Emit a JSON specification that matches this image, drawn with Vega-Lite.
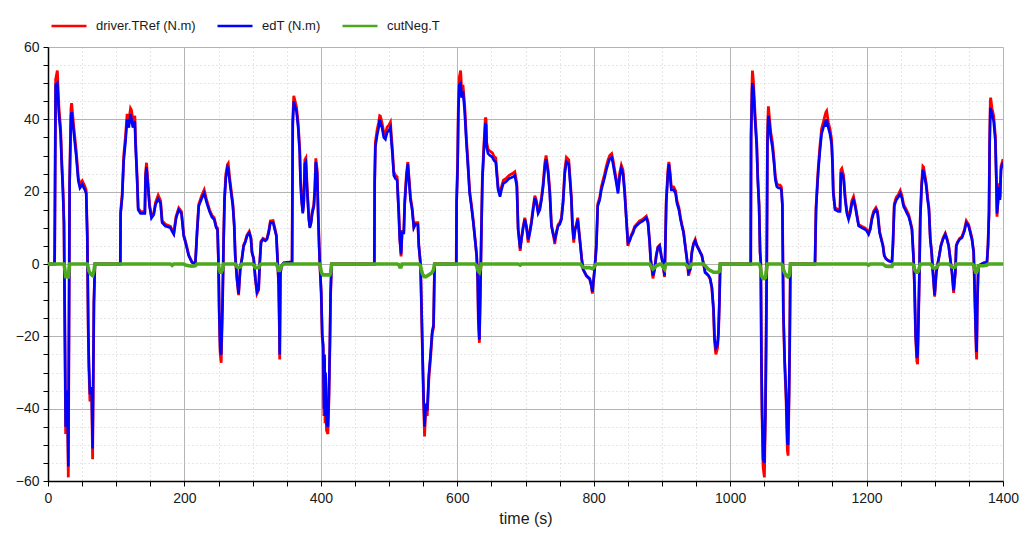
{
"$schema": "https://vega.github.io/schema/vega-lite/v6.json",
"width": 955, "height": 434,
"autosize": {"type": "none"},
"padding": {"left": 48, "top": 47, "right": 18, "bottom": 54},
"background": "white",
"config": {"view": {"stroke": null}, "font": "Liberation Sans"},
"data": {"values": [
{"t":0,"ref":0,"ed":0,"cut":0},{"t":9.5,"ref":0,"ed":0,"cut":0},{"t":9.8,"ref":2.8,"ed":2.7,"cut":0},{"t":11.2,"ref":51,"ed":49.5,"cut":0},{"t":13.7,"ref":53.5,"ed":50,"cut":0},{"t":16.1,"ref":43,"ed":41,"cut":0},{"t":18.5,"ref":37.5,"ed":36,"cut":0},{"t":20,"ref":29.5,"ed":28,"cut":0},{"t":22,"ref":20.5,"ed":19.5,"cut":0},{"t":23.4,"ref":11.5,"ed":11,"cut":0},{"t":24.4,"ref":-11.5,"ed":-11,"cut":-1},{"t":25.9,"ref":-47,"ed":-45,"cut":-3.5},{"t":28.3,"ref":-37,"ed":-35,"cut":-3.6},{"t":29.8,"ref":-59,"ed":-56,"cut":-3.6},{"t":31.7,"ref":23,"ed":22,"cut":0},{"t":33.7,"ref":43,"ed":41,"cut":0},{"t":34.6,"ref":44.5,"ed":42,"cut":0},{"t":38,"ref":37.5,"ed":36,"cut":0},{"t":41.5,"ref":31,"ed":29.5,"cut":0},{"t":44.4,"ref":24,"ed":23,"cut":0},{"t":46.8,"ref":22,"ed":21,"cut":0},{"t":50.2,"ref":23,"ed":22,"cut":0},{"t":54,"ref":21.5,"ed":20.5,"cut":0},{"t":56,"ref":20.3,"ed":19.5,"cut":0},{"t":57.6,"ref":8,"ed":7.7,"cut":0},{"t":59,"ref":-18.5,"ed":-17.7,"cut":-1},{"t":60,"ref":-29,"ed":-27.7,"cut":-2},{"t":61.5,"ref":-38,"ed":-36,"cut":-2.5},{"t":64,"ref":-36,"ed":-34,"cut":-3},{"t":65.4,"ref":-54,"ed":-51,"cut":-3.2},{"t":67.3,"ref":-11,"ed":-10.5,"cut":-2},{"t":68.8,"ref":0,"ed":0,"cut":0},
{"t":106,"ref":0,"ed":0,"cut":0},{"t":106.5,"ref":14.5,"ed":14,"cut":0},{"t":108.8,"ref":19.5,"ed":18.6,"cut":0},{"t":111,"ref":30,"ed":28.6,"cut":0},{"t":113.7,"ref":35.5,"ed":34,"cut":0},{"t":116,"ref":41.5,"ed":40,"cut":0},{"t":118.5,"ref":39.5,"ed":37.7,"cut":0},{"t":121,"ref":43,"ed":41.4,"cut":0},{"t":122.4,"ref":42.5,"ed":40,"cut":0},{"t":124.4,"ref":39.5,"ed":37.7,"cut":0},{"t":127.3,"ref":41,"ed":39.5,"cut":0},{"t":128.3,"ref":34.5,"ed":33,"cut":0},{"t":130.7,"ref":24,"ed":23,"cut":0},{"t":132.2,"ref":15.5,"ed":15,"cut":0},{"t":135.6,"ref":14.5,"ed":14,"cut":0},{"t":142,"ref":14.5,"ed":14,"cut":0},{"t":143,"ref":25,"ed":24,"cut":0},{"t":144.4,"ref":28,"ed":26.8,"cut":0},{"t":146.8,"ref":22,"ed":21,"cut":0},{"t":148.8,"ref":16.5,"ed":16,"cut":0},{"t":151.7,"ref":13.2,"ed":12.7,"cut":0},{"t":155,"ref":14,"ed":13.6,"cut":0},{"t":157.6,"ref":17,"ed":16.4,"cut":0},{"t":161.5,"ref":19,"ed":18,"cut":0},{"t":165,"ref":17.5,"ed":16.8,"cut":0},{"t":167.3,"ref":12,"ed":11.4,"cut":0},{"t":172,"ref":11,"ed":10.5,"cut":0},{"t":179.5,"ref":10.4,"ed":10,"cut":0},{"t":182,"ref":9.4,"ed":9,"cut":-0.4},{"t":184.4,"ref":8.6,"ed":8.2,"cut":0},{"t":187.8,"ref":13.2,"ed":12.7,"cut":0},{"t":191.7,"ref":15.5,"ed":15,"cut":0},{"t":195.6,"ref":14.5,"ed":14,"cut":0},{"t":199,"ref":8,"ed":7.7,"cut":0},{"t":201.5,"ref":6.3,"ed":6,"cut":-0.3},{"t":206.3,"ref":2.5,"ed":2.3,"cut":-0.5},{"t":211,"ref":0.5,"ed":0.5,"cut":-0.6},{"t":216,"ref":0,"ed":0,"cut":-0.5},{"t":218.5,"ref":9,"ed":8.6,"cut":0},{"t":221,"ref":16.5,"ed":16,"cut":0},{"t":225.5,"ref":19,"ed":18.2,"cut":0},{"t":229,"ref":20.5,"ed":19.5,"cut":0},{"t":232.8,"ref":17.5,"ed":16.8,"cut":0},{"t":236.8,"ref":15,"ed":14.5,"cut":0},{"t":240.2,"ref":13.5,"ed":13,"cut":0},{"t":243.6,"ref":12.8,"ed":12.3,"cut":0},{"t":246.6,"ref":10.4,"ed":10,"cut":0},{"t":248.5,"ref":9.9,"ed":9.5,"cut":0},{"t":250,"ref":0,"ed":0,"cut":0},{"t":251,"ref":-13.5,"ed":-13,"cut":-1.5},{"t":252.5,"ref":-25,"ed":-24,"cut":-2.3},{"t":253.9,"ref":-27.3,"ed":-25,"cut":-2.3},{"t":255.9,"ref":-11,"ed":-10.5,"cut":-1.5},{"t":257.4,"ref":6.3,"ed":6,"cut":0},{"t":258.8,"ref":18.5,"ed":17.7,"cut":0},{"t":260.8,"ref":25,"ed":24,"cut":0},{"t":263.2,"ref":27.5,"ed":26.8,"cut":0},{"t":264.2,"ref":27.8,"ed":26.5,"cut":0},{"t":266.2,"ref":24,"ed":23,"cut":0},{"t":268.6,"ref":20.3,"ed":19.5,"cut":0},{"t":271,"ref":16.6,"ed":16,"cut":0},{"t":273,"ref":11,"ed":10.5,"cut":0},{"t":274.5,"ref":2.4,"ed":2.3,"cut":0},{"t":277,"ref":-4.2,"ed":-4,"cut":-0.8},{"t":279.4,"ref":-8.6,"ed":-8.2,"cut":-1},{"t":281.9,"ref":-1,"ed":-1,"cut":-0.8},{"t":284.3,"ref":1.5,"ed":1.4,"cut":0},{"t":286.8,"ref":5.2,"ed":5,"cut":0},{"t":289.2,"ref":6.3,"ed":6,"cut":0},{"t":291.7,"ref":8,"ed":7.7,"cut":0},{"t":295,"ref":9,"ed":8.6,"cut":0},{"t":297.5,"ref":7.3,"ed":7,"cut":0},{"t":299,"ref":3.3,"ed":3.2,"cut":0},{"t":301.5,"ref":1.5,"ed":1.4,"cut":-0.3},{"t":304,"ref":-4.2,"ed":-4,"cut":-1},{"t":306.4,"ref":-8.2,"ed":-7.7,"cut":-1},{"t":308.8,"ref":-7.2,"ed":-6.8,"cut":-1},{"t":310.3,"ref":0,"ed":0,"cut":-0.5},{"t":312.3,"ref":6.3,"ed":6,"cut":0},{"t":315.2,"ref":7.1,"ed":6.8,"cut":0},{"t":318.6,"ref":6.7,"ed":6.4,"cut":0},{"t":321,"ref":7.1,"ed":6.8,"cut":0},{"t":323.5,"ref":9,"ed":8.6,"cut":0},{"t":326,"ref":11.9,"ed":11.4,"cut":0},{"t":329.9,"ref":12,"ed":11.5,"cut":0},{"t":331.9,"ref":10.4,"ed":10,"cut":0},{"t":334.8,"ref":8,"ed":7.7,"cut":0},{"t":336.8,"ref":0,"ed":0,"cut":-1},{"t":338.2,"ref":-6.3,"ed":-6,"cut":-1.8},{"t":339.2,"ref":-17.5,"ed":-16.8,"cut":-1.8},{"t":339.7,"ref":-26.4,"ed":-25,"cut":-1.8},{"t":340.7,"ref":-2.8,"ed":-2.7,"cut":-1.2},{"t":342.2,"ref":-0.5,"ed":-0.5,"cut":-0.5},{"t":345.6,"ref":0.3,"ed":0.3,"cut":0},{"t":357.8,"ref":0.6,"ed":0.6,"cut":0},{"t":358.8,"ref":40,"ed":38.6,"cut":0},{"t":360.3,"ref":46.5,"ed":45,"cut":0},{"t":361.3,"ref":45.7,"ed":44,"cut":0},{"t":364.2,"ref":43.5,"ed":42.3,"cut":0},{"t":366.7,"ref":39,"ed":37.7,"cut":0},{"t":369.1,"ref":31.5,"ed":30.5,"cut":0},{"t":370.1,"ref":24,"ed":23,"cut":0},{"t":371.6,"ref":18.4,"ed":17.7,"cut":0},{"t":373.5,"ref":14.5,"ed":14,"cut":0},{"t":375,"ref":17.5,"ed":16.8,"cut":0},{"t":376.5,"ref":28.8,"ed":27.7,"cut":0},{"t":378,"ref":29.3,"ed":28.2,"cut":0},{"t":379.9,"ref":21.3,"ed":20.5,"cut":0},{"t":382.4,"ref":12.8,"ed":12.3,"cut":0},{"t":383.8,"ref":10.4,"ed":10,"cut":0},{"t":385.8,"ref":11.9,"ed":11.4,"cut":0},{"t":387.3,"ref":14.5,"ed":14,"cut":0},{"t":389.7,"ref":16.4,"ed":15.8,"cut":0},{"t":391.2,"ref":21.3,"ed":20.5,"cut":0},{"t":392.6,"ref":29.2,"ed":28.2,"cut":0},{"t":394.6,"ref":26,"ed":25,"cut":0},{"t":396,"ref":14.5,"ed":14,"cut":0},{"t":397.5,"ref":5.2,"ed":5,"cut":0},{"t":398.5,"ref":0,"ed":0,"cut":0},{"t":400.5,"ref":-8,"ed":-7.7,"cut":-2},{"t":402,"ref":-20.3,"ed":-19.5,"cut":-2.8},{"t":403.4,"ref":-23.2,"ed":-22.3,"cut":-3},{"t":404.5,"ref":-42,"ed":-40,"cut":-3},{"t":405.4,"ref":-26,"ed":-25,"cut":-3},{"t":406.2,"ref":-44,"ed":-42,"cut":-3},{"t":406.9,"ref":-31.5,"ed":-30,"cut":-3},{"t":408.3,"ref":-46,"ed":-44,"cut":-3},{"t":410.3,"ref":-47,"ed":-45,"cut":-3},{"t":411.8,"ref":-37.7,"ed":-36,"cut":-3},{"t":413.2,"ref":-23.3,"ed":-22.3,"cut":-3},{"t":414.2,"ref":-9,"ed":-8.6,"cut":-2.5},{"t":415.7,"ref":0,"ed":0,"cut":0},
{"t":478.4,"ref":0,"ed":0,"cut":0},{"t":478.9,"ref":23.2,"ed":22.3,"cut":0},{"t":479.9,"ref":33.6,"ed":32.3,"cut":0},{"t":482.4,"ref":37,"ed":35.5,"cut":0},{"t":484.8,"ref":39.2,"ed":37.7,"cut":0},{"t":486.3,"ref":41,"ed":40,"cut":0},{"t":487.3,"ref":40.9,"ed":39,"cut":0},{"t":489.7,"ref":39,"ed":37.7,"cut":0},{"t":492.2,"ref":36.4,"ed":35,"cut":0},{"t":494.6,"ref":35.8,"ed":34.5,"cut":0},{"t":497.1,"ref":37.8,"ed":36.4,"cut":0},{"t":499.5,"ref":38.3,"ed":36.8,"cut":0},{"t":502,"ref":39.2,"ed":37.7,"cut":0},{"t":503.4,"ref":35.4,"ed":34,"cut":0},{"t":504.9,"ref":31.7,"ed":30.5,"cut":0},{"t":506.9,"ref":25.5,"ed":24.5,"cut":0},{"t":509.3,"ref":24.5,"ed":23.6,"cut":0},{"t":511.8,"ref":24.1,"ed":23.2,"cut":0},{"t":514.2,"ref":14.6,"ed":14,"cut":-0.2},{"t":515.7,"ref":7.1,"ed":6.8,"cut":-0.8},{"t":517.6,"ref":2.1,"ed":2.7,"cut":-0.8},{"t":519.1,"ref":9,"ed":8.6,"cut":0},{"t":521.6,"ref":9,"ed":8.6,"cut":0},{"t":523,"ref":17.5,"ed":16.8,"cut":0},{"t":525.5,"ref":25,"ed":24,"cut":0},{"t":527.5,"ref":28.2,"ed":27.7,"cut":0},{"t":529.9,"ref":22.3,"ed":21.4,"cut":0},{"t":531.4,"ref":18.4,"ed":17.7,"cut":0},{"t":533.8,"ref":15.6,"ed":15,"cut":0},{"t":536.3,"ref":10.4,"ed":10,"cut":0},{"t":538.7,"ref":11.4,"ed":11,"cut":0},{"t":542.2,"ref":11.4,"ed":11,"cut":0},{"t":543.6,"ref":5.2,"ed":5,"cut":0},{"t":546.1,"ref":0,"ed":0,"cut":-0.5},{"t":547.5,"ref":-11.9,"ed":-11.4,"cut":-1.8},{"t":549,"ref":-25,"ed":-24,"cut":-2.7},{"t":550.5,"ref":-37.5,"ed":-36,"cut":-3.2},{"t":552,"ref":-47.7,"ed":-45,"cut":-3.5},{"t":553.9,"ref":-40,"ed":-38.6,"cut":-3.5},{"t":555.9,"ref":-42,"ed":-40.5,"cut":-3.3},{"t":558.3,"ref":-31.8,"ed":-30.5,"cut":-3},{"t":560.8,"ref":-26,"ed":-25,"cut":-2.7},{"t":563.2,"ref":-19.4,"ed":-18.6,"cut":-2.3},{"t":565.2,"ref":-17.5,"ed":-16.8,"cut":-1.5},{"t":566.7,"ref":0,"ed":0,"cut":0},
{"t":598.5,"ref":0,"ed":0,"cut":0},{"t":599,"ref":17.5,"ed":16.8,"cut":0},{"t":600.5,"ref":28,"ed":26.8,"cut":0},{"t":601.5,"ref":43,"ed":41.4,"cut":0},{"t":602.9,"ref":51.5,"ed":49.5,"cut":0},{"t":604.9,"ref":53.5,"ed":50,"cut":0},{"t":606.4,"ref":48,"ed":46,"cut":0},{"t":608.3,"ref":49.5,"ed":47.7,"cut":0},{"t":610.8,"ref":44,"ed":42.3,"cut":0},{"t":613.2,"ref":35.4,"ed":34,"cut":0},{"t":615.7,"ref":27.9,"ed":26.8,"cut":0},{"t":618.1,"ref":20.3,"ed":19.5,"cut":0},{"t":620.6,"ref":16.6,"ed":16,"cut":0},{"t":623.5,"ref":11.9,"ed":11.4,"cut":0},{"t":626,"ref":7.1,"ed":6.8,"cut":0},{"t":628.4,"ref":2.4,"ed":2.3,"cut":-0.5},{"t":629.9,"ref":-4.2,"ed":-4,"cut":-1.5},{"t":630.9,"ref":-15.6,"ed":-15,"cut":-2},{"t":632.4,"ref":-21.8,"ed":-20.9,"cut":-2.3},{"t":633.8,"ref":-8,"ed":-7.7,"cut":-1.2},{"t":635.3,"ref":9,"ed":8.6,"cut":0},{"t":636.8,"ref":24.1,"ed":23.2,"cut":0},{"t":639.2,"ref":33.6,"ed":32.3,"cut":0},{"t":641.2,"ref":40.5,"ed":39,"cut":0},{"t":642.2,"ref":40,"ed":38.5,"cut":0},{"t":643.1,"ref":33.6,"ed":32.3,"cut":0},{"t":645.1,"ref":31.7,"ed":30.5,"cut":0},{"t":648,"ref":31.2,"ed":30,"cut":0},{"t":651.5,"ref":30.7,"ed":29.5,"cut":0},{"t":653.9,"ref":29.7,"ed":28.6,"cut":0},{"t":656.4,"ref":29.3,"ed":28.2,"cut":0},{"t":657.8,"ref":26,"ed":25,"cut":0},{"t":659.8,"ref":21.3,"ed":20.5,"cut":0},{"t":662.7,"ref":19.3,"ed":18.6,"cut":0},{"t":664.7,"ref":21.3,"ed":20.5,"cut":0},{"t":667.6,"ref":23.2,"ed":22.3,"cut":0},{"t":671.1,"ref":23.6,"ed":22.7,"cut":0},{"t":676,"ref":24.5,"ed":23.6,"cut":0},{"t":680.9,"ref":25,"ed":24,"cut":0},{"t":684.3,"ref":25.5,"ed":24.5,"cut":0},{"t":687.3,"ref":22.3,"ed":21.4,"cut":0},{"t":689.2,"ref":9.9,"ed":9.5,"cut":0},{"t":692.2,"ref":3.6,"ed":4.3,"cut":-0.3},{"t":694.1,"ref":7.1,"ed":6.8,"cut":0},{"t":696.6,"ref":10.4,"ed":10,"cut":0},{"t":699,"ref":12.8,"ed":12.3,"cut":0},{"t":701.5,"ref":10.4,"ed":10,"cut":0},{"t":703.9,"ref":5.9,"ed":6.8,"cut":0},{"t":706.3,"ref":9,"ed":8.6,"cut":0},{"t":708.8,"ref":11.9,"ed":11.4,"cut":0},{"t":711.2,"ref":15.6,"ed":15,"cut":0},{"t":713.7,"ref":18.9,"ed":18.2,"cut":0},{"t":716.1,"ref":17.5,"ed":16.8,"cut":0},{"t":718.5,"ref":14.6,"ed":14,"cut":0},{"t":721,"ref":15.6,"ed":15,"cut":0},{"t":723.4,"ref":18.4,"ed":17.7,"cut":0},{"t":725.9,"ref":22.3,"ed":21.4,"cut":0},{"t":728.3,"ref":27.9,"ed":26.8,"cut":0},{"t":730.2,"ref":30,"ed":29,"cut":0},{"t":733.2,"ref":26,"ed":25,"cut":0},{"t":735.6,"ref":20.3,"ed":19.5,"cut":0},{"t":738,"ref":10.9,"ed":10.5,"cut":0},{"t":740.5,"ref":8.5,"ed":8.2,"cut":0},{"t":742.9,"ref":5.5,"ed":6.8,"cut":0},{"t":745.4,"ref":9,"ed":8.6,"cut":0},{"t":747.8,"ref":10.9,"ed":10.5,"cut":0},{"t":750.2,"ref":11.4,"ed":11,"cut":0},{"t":752.7,"ref":12.8,"ed":12.3,"cut":0},{"t":755.1,"ref":17.5,"ed":16.8,"cut":0},{"t":757.6,"ref":26,"ed":25,"cut":0},{"t":760,"ref":29.5,"ed":28.2,"cut":0},{"t":763.4,"ref":28.8,"ed":27.7,"cut":0},{"t":765.9,"ref":22.3,"ed":21.4,"cut":0},{"t":767.3,"ref":18.4,"ed":17.7,"cut":0},{"t":768.8,"ref":10.9,"ed":10.5,"cut":0},{"t":770.7,"ref":5.9,"ed":6.8,"cut":0},{"t":772.7,"ref":9.9,"ed":9.5,"cut":0},{"t":774.6,"ref":10.9,"ed":10.5,"cut":0},{"t":776.6,"ref":12.8,"ed":12.3,"cut":0},{"t":778.5,"ref":9,"ed":8.6,"cut":0},{"t":780.5,"ref":5.2,"ed":5,"cut":0},{"t":782.4,"ref":1.5,"ed":1.4,"cut":-0.5},{"t":784.4,"ref":-1.5,"ed":-1.4,"cut":-0.8},{"t":786.8,"ref":-2.4,"ed":-2.3,"cut":-1},{"t":789.3,"ref":-3.3,"ed":-3.2,"cut":-1},{"t":791.7,"ref":-3.8,"ed":-3.6,"cut":-1},{"t":794.1,"ref":-4.2,"ed":-4,"cut":-1},{"t":796.6,"ref":-6.2,"ed":-5.9,"cut":-1.2},{"t":798,"ref":-8.2,"ed":-7.7,"cut":-1.3},{"t":800,"ref":-4.2,"ed":-4,"cut":-1},{"t":802,"ref":0,"ed":0,"cut":-0.3},{"t":803.9,"ref":5.2,"ed":5,"cut":0},{"t":805.9,"ref":16.6,"ed":16,"cut":0},{"t":808.8,"ref":18.4,"ed":17.7,"cut":0},{"t":811.2,"ref":21.3,"ed":20.5,"cut":0},{"t":813.7,"ref":23.2,"ed":22.3,"cut":0},{"t":816.1,"ref":25,"ed":24,"cut":0},{"t":818.5,"ref":27,"ed":26,"cut":0},{"t":821,"ref":28.8,"ed":27.7,"cut":0},{"t":823.4,"ref":30,"ed":29,"cut":0},{"t":826.3,"ref":30.5,"ed":29.5,"cut":0},{"t":828.3,"ref":28.8,"ed":27.7,"cut":0},{"t":830.7,"ref":26,"ed":25,"cut":0},{"t":833.2,"ref":23.2,"ed":22.3,"cut":0},{"t":835.6,"ref":20.3,"ed":19.5,"cut":0},{"t":838,"ref":25,"ed":24,"cut":0},{"t":840.5,"ref":27.3,"ed":26.4,"cut":0},{"t":842.9,"ref":26,"ed":25,"cut":0},{"t":845.4,"ref":20.3,"ed":19.5,"cut":0},{"t":847.8,"ref":12.8,"ed":12.3,"cut":0},{"t":850.2,"ref":5,"ed":5.9,"cut":0},{"t":852.7,"ref":6.6,"ed":6.4,"cut":0},{"t":855.1,"ref":8,"ed":7.7,"cut":0},{"t":857.6,"ref":9,"ed":8.6,"cut":0},{"t":860,"ref":10.4,"ed":10,"cut":0},{"t":862.4,"ref":10.9,"ed":10.5,"cut":0},{"t":867.3,"ref":11.9,"ed":11.4,"cut":0},{"t":872.2,"ref":12.4,"ed":11.9,"cut":0},{"t":877.1,"ref":13.2,"ed":12.7,"cut":0},{"t":879.5,"ref":11.9,"ed":11.4,"cut":0},{"t":882,"ref":6.1,"ed":5.9,"cut":0},{"t":883.4,"ref":1.5,"ed":1.4,"cut":-0.5},{"t":885.4,"ref":-1.5,"ed":-1.4,"cut":-1},{"t":886.8,"ref":-4,"ed":-3.2,"cut":-1.4},{"t":889.3,"ref":-1.5,"ed":-1.4,"cut":-1},{"t":891.7,"ref":2.4,"ed":2.3,"cut":-0.5},{"t":894.1,"ref":4.7,"ed":4.5,"cut":-0.3},{"t":896.6,"ref":5.2,"ed":5,"cut":0},{"t":899,"ref":2.4,"ed":2.3,"cut":0},{"t":901.5,"ref":0,"ed":0,"cut":-0.8},{"t":903.9,"ref":-3.6,"ed":-3.2,"cut":-1.4},{"t":904.9,"ref":4.3,"ed":4.1,"cut":-0.5},{"t":906.3,"ref":17.5,"ed":16.8,"cut":0},{"t":908.8,"ref":26,"ed":25,"cut":0},{"t":910.2,"ref":28.2,"ed":27.7,"cut":0},{"t":912.2,"ref":25,"ed":24,"cut":0},{"t":913.7,"ref":21.3,"ed":20.5,"cut":0},{"t":917.1,"ref":21.3,"ed":20.5,"cut":0},{"t":920,"ref":20.3,"ed":19.5,"cut":0},{"t":922,"ref":17.5,"ed":16.8,"cut":0},{"t":924.9,"ref":15.6,"ed":15,"cut":0},{"t":927.3,"ref":12.8,"ed":12.3,"cut":0},{"t":929.3,"ref":10.9,"ed":10.5,"cut":0},{"t":931.7,"ref":9,"ed":8.6,"cut":0},{"t":934.1,"ref":5.2,"ed":5,"cut":0},{"t":936.6,"ref":1.5,"ed":1.4,"cut":-0.5},{"t":939,"ref":-3.2,"ed":-2.3,"cut":-1},{"t":941.5,"ref":-1.5,"ed":-1.4,"cut":-0.8},{"t":943.9,"ref":3.3,"ed":3.2,"cut":0},{"t":946.3,"ref":5.7,"ed":5.5,"cut":0},{"t":948.8,"ref":6.8,"ed":6.4,"cut":0},{"t":951.2,"ref":5.2,"ed":5,"cut":0},{"t":953.7,"ref":4.3,"ed":4.1,"cut":0},{"t":956.1,"ref":3.3,"ed":3.2,"cut":0},{"t":958.5,"ref":2.4,"ed":2.3,"cut":0},{"t":961,"ref":0,"ed":0,"cut":0},{"t":963.4,"ref":-2.4,"ed":-2.3,"cut":-0.5},{"t":965.9,"ref":-2.8,"ed":-2.7,"cut":-1},{"t":968.3,"ref":-3.3,"ed":-3.2,"cut":-1.5},{"t":970.7,"ref":-4.2,"ed":-4,"cut":-1.8},{"t":973.2,"ref":-6.7,"ed":-6.4,"cut":-2},{"t":975.6,"ref":-12.8,"ed":-12.3,"cut":-2.3},{"t":977.1,"ref":-21.3,"ed":-20.5,"cut":-2.3},{"t":979,"ref":-25,"ed":-23.2,"cut":-2.3},{"t":981.5,"ref":-23.2,"ed":-22.3,"cut":-2.3},{"t":982.9,"ref":-19.4,"ed":-18.6,"cut":-2.3},{"t":984.4,"ref":-9.9,"ed":-9.5,"cut":-2},{"t":985.4,"ref":0,"ed":0,"cut":0},
{"t":1030.2,"ref":0,"ed":0,"cut":0},{"t":1030.7,"ref":36.4,"ed":35,"cut":0},{"t":1032.2,"ref":50.5,"ed":48.6,"cut":0},{"t":1032.7,"ref":53.5,"ed":50,"cut":0},{"t":1034.1,"ref":50.5,"ed":48.6,"cut":0},{"t":1036.6,"ref":41.1,"ed":39.5,"cut":0},{"t":1039,"ref":33.6,"ed":32.3,"cut":0},{"t":1040.5,"ref":24.1,"ed":23.2,"cut":0},{"t":1042.4,"ref":16.6,"ed":16,"cut":0},{"t":1043.9,"ref":3.3,"ed":3.2,"cut":-0.5},{"t":1044.9,"ref":0.5,"ed":0.5,"cut":-1.5},{"t":1045.9,"ref":-27.9,"ed":-26.8,"cut":-3},{"t":1046.8,"ref":-42,"ed":-40.5,"cut":-3.5},{"t":1048.3,"ref":-56,"ed":-54,"cut":-4},{"t":1050.2,"ref":-59,"ed":-55,"cut":-4},{"t":1051.7,"ref":-42,"ed":-40.5,"cut":-3.8},{"t":1052.7,"ref":-23.2,"ed":-22.3,"cut":-2.5},{"t":1053.7,"ref":0,"ed":0,"cut":-1},{"t":1054.6,"ref":33.6,"ed":32.3,"cut":0},{"t":1055.6,"ref":41.5,"ed":39.5,"cut":0},{"t":1056.1,"ref":43.6,"ed":41,"cut":0},{"t":1057.6,"ref":40.5,"ed":39,"cut":0},{"t":1059.5,"ref":36.4,"ed":35,"cut":0},{"t":1062,"ref":33.6,"ed":32.3,"cut":0},{"t":1064.4,"ref":28.8,"ed":27.7,"cut":0},{"t":1066.3,"ref":24.1,"ed":23.2,"cut":0},{"t":1068.3,"ref":22.3,"ed":21.4,"cut":0},{"t":1070.7,"ref":21.8,"ed":21,"cut":0},{"t":1073.2,"ref":21.8,"ed":21,"cut":0},{"t":1075.1,"ref":21.3,"ed":20.5,"cut":0},{"t":1076.6,"ref":16.6,"ed":16,"cut":-0.3},{"t":1078,"ref":-13.7,"ed":-13.2,"cut":-1.5},{"t":1080,"ref":-27.9,"ed":-26.8,"cut":-2.5},{"t":1082,"ref":-37.5,"ed":-36,"cut":-3},{"t":1083.9,"ref":-51.5,"ed":-49.5,"cut":-3.5},{"t":1084.9,"ref":-53,"ed":-50,"cut":-3.6},{"t":1086.3,"ref":-37.5,"ed":-36,"cut":-3.3},{"t":1087.3,"ref":-23,"ed":-22,"cut":-2.5},{"t":1088.3,"ref":0,"ed":0,"cut":0},
{"t":1124.4,"ref":0,"ed":0,"cut":0},{"t":1125.9,"ref":15.6,"ed":15,"cut":0},{"t":1127.8,"ref":22.3,"ed":21.4,"cut":0},{"t":1129.3,"ref":27,"ed":26,"cut":0},{"t":1131.7,"ref":32.7,"ed":31.4,"cut":0},{"t":1134.1,"ref":37.4,"ed":36,"cut":0},{"t":1136.6,"ref":39.2,"ed":37.7,"cut":0},{"t":1139,"ref":41,"ed":39,"cut":0},{"t":1140.5,"ref":42,"ed":38,"cut":0},{"t":1141.5,"ref":42.3,"ed":40,"cut":0},{"t":1143.9,"ref":39.2,"ed":37.7,"cut":0},{"t":1146.3,"ref":37.4,"ed":36,"cut":0},{"t":1148.8,"ref":34.3,"ed":33,"cut":0},{"t":1150.2,"ref":27.9,"ed":26.8,"cut":0},{"t":1151.2,"ref":20.3,"ed":19.5,"cut":0},{"t":1153.7,"ref":15.6,"ed":15,"cut":0},{"t":1158.5,"ref":15,"ed":14.5,"cut":0},{"t":1161,"ref":15,"ed":14.5,"cut":0},{"t":1162.4,"ref":26,"ed":25,"cut":0},{"t":1163.8,"ref":26.4,"ed":25,"cut":0},{"t":1166.3,"ref":24.5,"ed":23.5,"cut":0},{"t":1168.7,"ref":18.4,"ed":17.7,"cut":0},{"t":1171.1,"ref":14.6,"ed":14,"cut":0},{"t":1173.6,"ref":12.8,"ed":12.3,"cut":0},{"t":1176,"ref":14.6,"ed":14,"cut":0},{"t":1178.5,"ref":17.5,"ed":16.8,"cut":0},{"t":1180.9,"ref":18.6,"ed":17.7,"cut":0},{"t":1183.4,"ref":16.4,"ed":15.8,"cut":0},{"t":1185.8,"ref":13.7,"ed":13.2,"cut":0},{"t":1188.3,"ref":10.9,"ed":10.5,"cut":0},{"t":1193.2,"ref":10.4,"ed":10,"cut":0},{"t":1198,"ref":9.9,"ed":9.5,"cut":0},{"t":1200,"ref":9.5,"ed":9.2,"cut":0},{"t":1202.9,"ref":8.5,"ed":8.2,"cut":-0.3},{"t":1205.4,"ref":9.9,"ed":9.5,"cut":0},{"t":1207.8,"ref":12.8,"ed":12.3,"cut":0},{"t":1210.3,"ref":14.6,"ed":14,"cut":0},{"t":1213.7,"ref":15.6,"ed":15,"cut":0},{"t":1216.1,"ref":14.6,"ed":14,"cut":0},{"t":1219.1,"ref":9,"ed":8.6,"cut":0},{"t":1221.5,"ref":7.1,"ed":6.8,"cut":0},{"t":1224,"ref":5.2,"ed":5,"cut":0},{"t":1225.9,"ref":2.4,"ed":2.3,"cut":-0.3},{"t":1228.4,"ref":1.5,"ed":1.4,"cut":-0.6},{"t":1232.3,"ref":0.9,"ed":0.9,"cut":-0.7},{"t":1237.2,"ref":0.5,"ed":0.5,"cut":-0.7},{"t":1238.6,"ref":5.2,"ed":5,"cut":0},{"t":1240.6,"ref":16.6,"ed":16,"cut":0},{"t":1243.5,"ref":18.4,"ed":17.7,"cut":0},{"t":1246.9,"ref":19.3,"ed":18.6,"cut":0},{"t":1249.4,"ref":20.3,"ed":19.5,"cut":0},{"t":1251.8,"ref":18.9,"ed":18.2,"cut":0},{"t":1254.3,"ref":16.5,"ed":15.9,"cut":0},{"t":1256.7,"ref":15.6,"ed":15,"cut":0},{"t":1259.2,"ref":14.6,"ed":14,"cut":0},{"t":1261.6,"ref":13.7,"ed":13.2,"cut":0},{"t":1264.1,"ref":11.9,"ed":11.4,"cut":0},{"t":1266.5,"ref":9.9,"ed":9.5,"cut":0},{"t":1268.9,"ref":1.5,"ed":1.4,"cut":-0.3},{"t":1270.4,"ref":-7.1,"ed":-6.8,"cut":-1.5},{"t":1271.9,"ref":-20.3,"ed":-19.5,"cut":-2},{"t":1273.8,"ref":-27,"ed":-26,"cut":-2.3},{"t":1274.8,"ref":-27.7,"ed":-25,"cut":-2.3},{"t":1275.8,"ref":-18.4,"ed":-17.7,"cut":-2},{"t":1277.3,"ref":-4.2,"ed":-4,"cut":-1},{"t":1278.7,"ref":12.8,"ed":12.3,"cut":0},{"t":1280.7,"ref":22.3,"ed":21.4,"cut":0},{"t":1282.6,"ref":27,"ed":26,"cut":0},{"t":1283.6,"ref":26.8,"ed":25.5,"cut":0},{"t":1285.6,"ref":24.5,"ed":23.6,"cut":0},{"t":1287.5,"ref":22.3,"ed":21.4,"cut":0},{"t":1289.5,"ref":18.4,"ed":17.7,"cut":0},{"t":1291.4,"ref":15.6,"ed":15,"cut":0},{"t":1293.4,"ref":7.1,"ed":6.8,"cut":0},{"t":1295.4,"ref":3.3,"ed":3.2,"cut":-0.3},{"t":1297.3,"ref":-2.4,"ed":-2.3,"cut":-1},{"t":1299.8,"ref":-9,"ed":-8.6,"cut":-1.2},{"t":1302.2,"ref":-2.4,"ed":-2.3,"cut":-1},{"t":1304.2,"ref":0,"ed":0,"cut":-0.5},{"t":1306.6,"ref":2.4,"ed":2.3,"cut":0},{"t":1309,"ref":5.2,"ed":5,"cut":0},{"t":1312,"ref":7.1,"ed":6.8,"cut":0},{"t":1315.4,"ref":8.5,"ed":8.2,"cut":0},{"t":1317.8,"ref":7.1,"ed":6.8,"cut":0},{"t":1320.3,"ref":5.2,"ed":5,"cut":0},{"t":1322.7,"ref":1.5,"ed":1.4,"cut":-0.3},{"t":1325.2,"ref":-2.4,"ed":-2.3,"cut":-0.8},{"t":1327.6,"ref":-8,"ed":-7.3,"cut":-1},{"t":1330.1,"ref":-2.4,"ed":-2.3,"cut":-0.8},{"t":1331.5,"ref":5.2,"ed":5,"cut":0},{"t":1333.5,"ref":6.1,"ed":5.9,"cut":0},{"t":1336.4,"ref":7.1,"ed":6.8,"cut":0},{"t":1339.9,"ref":7.6,"ed":7.3,"cut":0},{"t":1343.3,"ref":9.4,"ed":9,"cut":0},{"t":1346.2,"ref":11.9,"ed":11.4,"cut":0},{"t":1349.6,"ref":10.9,"ed":10.5,"cut":0},{"t":1352.1,"ref":9,"ed":8.6,"cut":0},{"t":1354.5,"ref":7.1,"ed":6.8,"cut":0},{"t":1357,"ref":3.3,"ed":3.2,"cut":-0.3},{"t":1358.4,"ref":-7.1,"ed":-6.8,"cut":-1.5},{"t":1359.9,"ref":-18.4,"ed":-17.7,"cut":-2.3},{"t":1360.9,"ref":-25,"ed":-24,"cut":-2.3},{"t":1361.4,"ref":-26.4,"ed":-24,"cut":-2.3},{"t":1362.3,"ref":-11.9,"ed":-11.4,"cut":-1.8},{"t":1363.8,"ref":-0.5,"ed":-0.5,"cut":-0.5},{"t":1371.6,"ref":0.3,"ed":0.3,"cut":-0.5},{"t":1376.5,"ref":0.5,"ed":0.5,"cut":-0.3},{"t":1378,"ref":5.2,"ed":5,"cut":0},{"t":1379.5,"ref":14.6,"ed":14,"cut":0},{"t":1380.4,"ref":33.6,"ed":32.3,"cut":0},{"t":1381.4,"ref":45,"ed":43.2,"cut":0},{"t":1381.9,"ref":46,"ed":43,"cut":0},{"t":1383.9,"ref":43,"ed":41.4,"cut":0},{"t":1386.3,"ref":41,"ed":39.5,"cut":0},{"t":1388.8,"ref":35.4,"ed":34,"cut":0},{"t":1390.2,"ref":24.1,"ed":23.2,"cut":0},{"t":1391.2,"ref":13.1,"ed":14,"cut":0},{"t":1392.7,"ref":17.7,"ed":17,"cut":0},{"t":1394.1,"ref":22.3,"ed":21.4,"cut":0},{"t":1395.6,"ref":18.4,"ed":17.7,"cut":0},{"t":1397.1,"ref":27,"ed":26,"cut":0},{"t":1399,"ref":28.2,"ed":27.7,"cut":0},{"t":1400,"ref":29,"ed":28,"cut":0}
]},
"transform": [{"fold": ["ref", "ed", "cut"], "as": ["series", "value"]}],
"encoding": {
  "x": {"field": "t", "type": "quantitative",
    "scale": {"domain": [0, 1400], "nice": false, "zero": false},
    "axis": {"title": "time (s)", "values": [0,50,100,150,200,250,300,350,400,450,500,550,600,650,700,750,800,850,900,950,1000,1050,1100,1150,1200,1250,1300,1350,1400],
      "labelExpr": "datum.value % 200 === 0 ? datum.label : ''", "format": "d",
      "labelFontSize": 14, "labelColor": "#1a1a1a", "labelFlush": false, "labelOverlap": false, "labelPadding": 5,
      "tickSize": 5, "tickColor": "#000000", "tickWidth": 1, "domainColor": "#000000", "domainWidth": 1.5,
      "gridColor": {"condition": {"test": "datum.value % 200 === 0", "value": "#b4b4b4"}, "value": "#cdcdcd"},
      "gridDash": {"condition": {"test": "datum.value % 200 === 0", "value": []}, "value": [1, 3]},
      "gridWidth": 1,
      "titleFontSize": 16, "titleFontWeight": "normal", "titleColor": "#1a1a1a", "titlePadding": 5}},
  "y": {"field": "value", "type": "quantitative",
    "scale": {"domain": [-60, 60], "nice": false, "zero": false},
    "axis": {"title": null, "values": [-60,-55,-50,-45,-40,-35,-30,-25,-20,-15,-10,-5,0,5,10,15,20,25,30,35,40,45,50,55,60],
      "labelExpr": "datum.value % 20 === 0 ? datum.label : ''", "format": "d",
      "labelFontSize": 14, "labelColor": "#1a1a1a", "labelOverlap": false, "labelFlush": false, "labelPadding": 4,
      "tickSize": 5, "tickColor": "#000000", "tickWidth": 1, "domainColor": "#000000", "domainWidth": 1.5,
      "gridColor": {"condition": {"test": "datum.value % 20 === 0", "value": "#b4b4b4"}, "value": "#cdcdcd"},
      "gridDash": {"condition": {"test": "datum.value % 20 === 0", "value": []}, "value": [1, 3]},
      "gridWidth": 1}},
  "color": {"field": "series", "type": "nominal",
    "scale": {"domain": ["ref", "ed", "cut"], "range": ["#ff0000", "#0000ff", "#4ca81c"]},
    "legend": {"title": null, "orient": "none", "legendX": 2, "legendY": -40, "direction": "horizontal",
      "symbolType": "stroke", "symbolSize": 1225, "symbolStrokeWidth": 2.5, "labelFontSize": 13, "labelColor": "#1a1a1a",
      "labelOffset": 8, "columnPadding": 16, "padding": 0, "offset": 0,
      "labelExpr": "datum.label === 'ref' ? 'driver.TRef (N.m)' : datum.label === 'ed' ? 'edT (N.m)' : 'cutNeg.T'"}}
},
"layer": [
  {"transform": [{"filter": "datum.series === 'ref'"}], "mark": {"type": "line", "strokeWidth": 2.8, "clip": true}},
  {"transform": [{"filter": "datum.series === 'ed'"}], "mark": {"type": "line", "strokeWidth": 2.6, "clip": true}},
  {"transform": [{"filter": "datum.series === 'cut'"}], "mark": {"type": "line", "strokeWidth": 3.6, "clip": true}}
]
}
